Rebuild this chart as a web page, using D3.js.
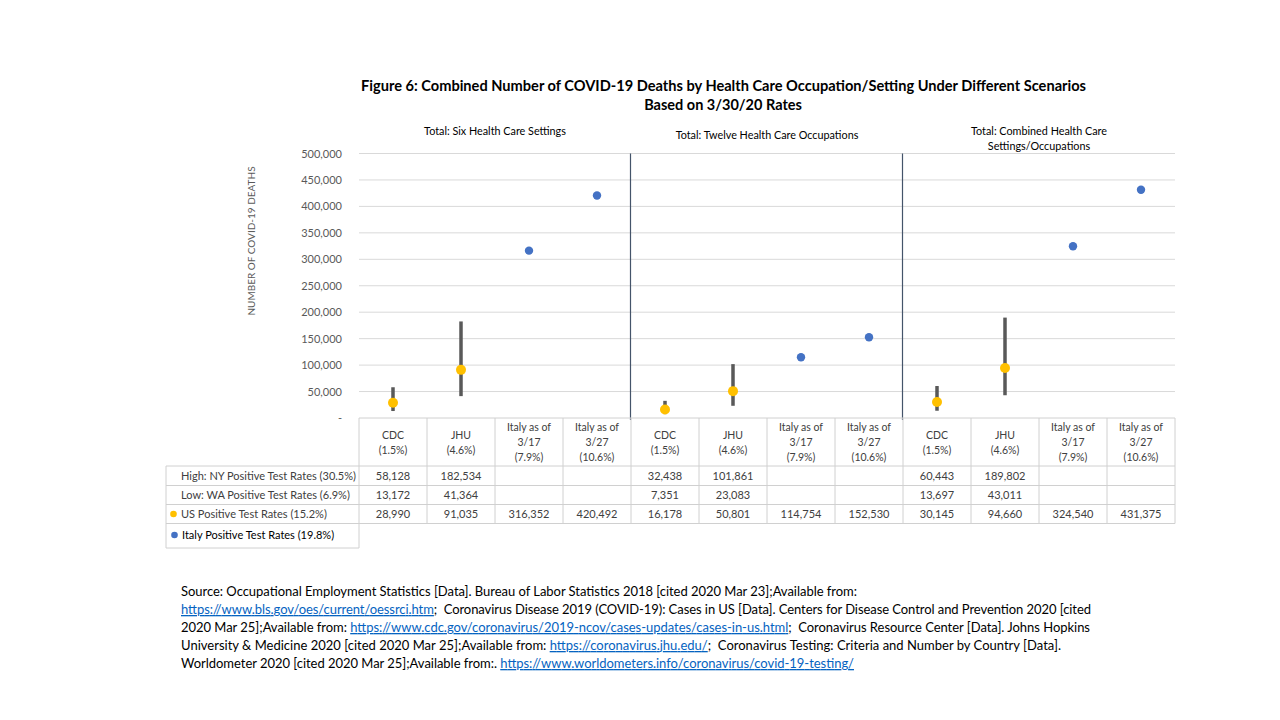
<!DOCTYPE html>
<html><head><meta charset="utf-8">
<script src="https://cdn.jsdelivr.net/npm/d3@7"></script>
<style>body{margin:0;background:#fff}svg{display:block}text{font-family:Lato,"Open Sans",sans-serif}</style>
</head><body><svg id="c" width="1280" height="720"></svg>
<script>
const groups = ["Total: Six Health Care Settings", "Total: Twelve Health Care Occupations", "Total: Combined Health Care|Settings/Occupations"];
const categories = ["CDC|(1.5%)", "JHU|(4.6%)", "Italy as of|3/17|(7.9%)", "Italy as of|3/27|(10.6%)",
                    "CDC|(1.5%)", "JHU|(4.6%)", "Italy as of|3/17|(7.9%)", "Italy as of|3/27|(10.6%)",
                    "CDC|(1.5%)", "JHU|(4.6%)", "Italy as of|3/17|(7.9%)", "Italy as of|3/27|(10.6%)"];
const highNY = [58128, 182534, null, null, 32438, 101861, null, null, 60443, 189802, null, null];
const lowWA  = [13172, 41364, null, null, 7351, 23083, null, null, 13697, 43011, null, null];
const usRate = [28990, 91035, null, null, 16178, 50801, null, null, 30145, 94660, null, null];
const italyRate = [null, null, 316352, 420492, null, null, 114754, 152530, null, null, 324540, 431375];
const tableUS = [28990, 91035, 316352, 420492, 16178, 50801, 114754, 152530, 30145, 94660, 324540, 431375];
const rowLabels = ["High: NY Positive Test Rates (30.5%)", "Low: WA Positive Test Rates (6.9%)", "US Positive Test Rates (15.2%)"];
const italyLabel = "Italy Positive Test Rates (19.8%)";
const yTicks = [0, 50000, 100000, 150000, 200000, 250000, 300000, 350000, 400000, 450000, 500000];

const svg = d3.select("#c");
svg.append("rect").attr("width",1280).attr("height",720).attr("fill","#fff");
const L = 359, R = 1175, T = 153.5, B = 418;
const x = d3.scaleBand().domain(d3.range(12)).range([L, R]);
const y = d3.scaleLinear().domain([0, 500000]).range([B, T]);
const fmt = d3.format(",");
const txt = "#404040", axc = "#595959", grid = "#D9D9D9", tgrid = "#D0D0D0";

// title
svg.append("text").attr("x",361).attr("y",90.5).attr("font-weight","bold")
  .attr("font-size",14.5).attr("fill","#000").attr("textLength",725).attr("lengthAdjust","spacingAndGlyphs")
  .text("Figure 6: Combined Number of COVID-19 Deaths by Health Care Occupation/Setting Under Different Scenarios");
svg.append("text").attr("x",723).attr("y",109.5).attr("text-anchor","middle").attr("font-weight","bold")
  .attr("font-size",14.5).attr("fill","#000").text("Based on 3/30/20 Rates");

// gridlines
svg.append("g").selectAll("line").data(yTicks.filter(d=>d>0)).join("line")
  .attr("x1",L).attr("x2",R).attr("y1",d=>y(d)).attr("y2",d=>y(d)).attr("stroke",grid).attr("stroke-width",1);

// y axis
const ya = svg.append("g").attr("transform",`translate(${L},0)`)
  .call(d3.axisLeft(y).tickValues(yTicks).tickSize(0).tickPadding(17).tickFormat(d => d===0 ? "-" : fmt(d)));
ya.select(".domain").remove();
ya.selectAll("text").attr("font-family","Lato,sans-serif").attr("font-size",11).attr("fill",axc);
svg.append("text").attr("transform","translate(255,241) rotate(-90)").attr("text-anchor","middle")
  .attr("font-size",10).attr("fill",axc).text("NUMBER OF COVID-19 DEATHS");

// group headings
const gc = [0,1,2].map(g => (x(g*4) + x(g*4+3) + x.bandwidth())/2);
groups.forEach((g,i) => {
  const lines = g.split("|");
  const y0 = lines.length > 1 ? 135 : (i===1 ? 139 : 135);
  lines.forEach((s,j) => svg.append("text").attr("x",gc[i]).attr("y",y0 + j*15).attr("text-anchor","middle")
    .attr("font-size",10.8).attr("fill","#000").text(s));
});

// separators
[4,8].forEach(i => svg.append("line").attr("x1",x(i)-0.5).attr("x2",x(i)-0.5).attr("y1",T).attr("y2",B+2)
  .attr("stroke","#44546A").attr("stroke-width",1.2));

// error bars
const cx = i => x(i) + x.bandwidth()/2;
svg.append("g").selectAll("line").data(d3.range(12).filter(i=>highNY[i]!=null)).join("line")
  .attr("x1",cx).attr("x2",cx).attr("y1",i=>y(highNY[i])).attr("y2",i=>y(lowWA[i]))
  .attr("stroke","#595959").attr("stroke-width",3.5);
svg.append("g").selectAll("circle").data(d3.range(12).filter(i=>usRate[i]!=null)).join("circle")
  .attr("cx",cx).attr("cy",i=>y(usRate[i])).attr("r",5).attr("fill","#FFC000");
svg.append("g").selectAll("circle").data(d3.range(12).filter(i=>italyRate[i]!=null)).join("circle")
  .attr("cx",cx).attr("cy",i=>y(italyRate[i])).attr("r",4.2).attr("fill","#4472C4");

// table
const rows = [418, 466, 485.5, 504.5, 523.5];
const tL = 166;
const tg = svg.append("g").attr("stroke",tgrid).attr("stroke-width",1).attr("fill","none");
tg.append("line").attr("x1",L).attr("x2",R).attr("y1",rows[0]).attr("y2",rows[0]);
for (let r=1;r<5;r++) tg.append("line").attr("x1", tL).attr("x2",R).attr("y1",rows[r]).attr("y2",rows[r]);
d3.range(13).forEach(i => {
  const xx = i<12 ? x(i) : R;
  tg.append("line").attr("x1",xx).attr("x2",xx).attr("y1",rows[0]).attr("y2",rows[4]);
});
tg.append("line").attr("x1",tL).attr("x2",tL).attr("y1",rows[1]).attr("y2",548);
tg.append("line").attr("x1",tL).attr("x2",L).attr("y1",548).attr("y2",548);
tg.append("line").attr("x1",L).attr("x2",L).attr("y1",rows[4]).attr("y2",548);

categories.forEach((c,i) => {
  const lines = c.split("|");
  const y0 = lines.length === 2 ? 439 : 431;
  lines.forEach((s,j) => svg.append("text").attr("x",cx(i)).attr("y",y0 + j*15).attr("text-anchor","middle")
    .attr("font-size",10.5).attr("fill",txt).text(s));
});
const tableRows = [highNY, lowWA, tableUS];
tableRows.forEach((arr,r) => {
  const ym = (rows[r+1] + rows[r+2])/2 + 4;
  svg.append("text").attr("x",181).attr("y",ym).attr("font-size",11).attr("fill",txt).text(rowLabels[r]);
  arr.forEach((v,i) => { if (v!=null) svg.append("text").attr("x",cx(i)).attr("y",ym).attr("text-anchor","middle")
    .attr("font-size",11).attr("fill",txt).text(fmt(v)); });
});
svg.append("circle").attr("cx",173.5).attr("cy",(rows[3]+rows[4])/2).attr("r",3.3).attr("fill","#FFC000");
svg.append("circle").attr("cx",174.5).attr("cy",535).attr("r",3.3).attr("fill","#4472C4");
svg.append("text").attr("x",182).attr("y",539).attr("font-size",11).attr("fill","#000").text(italyLabel);

// source
const src = [
  [["Source: Occupational Employment Statistics [Data]. Bureau of Labor Statistics 2018 [cited 2020 Mar 23];Available from:",0]],
  [["https://www.bls.gov/oes/current/oessrci.htm",1],[";  Coronavirus Disease 2019 (COVID-19): Cases in US [Data]. Centers for Disease Control and Prevention 2020 [cited",0]],
  [["2020 Mar 25];Available from: ",0],["https://www.cdc.gov/coronavirus/2019-ncov/cases-updates/cases-in-us.html",1],[";  Coronavirus Resource Center [Data]. Johns Hopkins",0]],
  [["University & Medicine 2020 [cited 2020 Mar 25];Available from: ",0],["https://coronavirus.jhu.edu/",1],[";  Coronavirus Testing: Criteria and Number by Country [Data].",0]],
  [["Worldometer 2020 [cited 2020 Mar 25];Available from:. ",0],["https://www.worldometers.info/coronavirus/covid-19-testing/",1]]
];
const widths = [676, 910, 909, 880, 673];
src.forEach((line,k) => {
  const t = svg.append("text").attr("x",181).attr("y",596 + k*18).attr("font-size",13).attr("fill","#000")
    .attr("xml:space","preserve").style("white-space","pre");
  line.forEach(([s,link]) => {
    const ts = t.append("tspan").text(s);
    if (link) ts.attr("fill","#0563C1").attr("text-decoration","underline");
  });
  t.attr("textLength",widths[k]).attr("lengthAdjust","spacing");
});
</script></body></html>
